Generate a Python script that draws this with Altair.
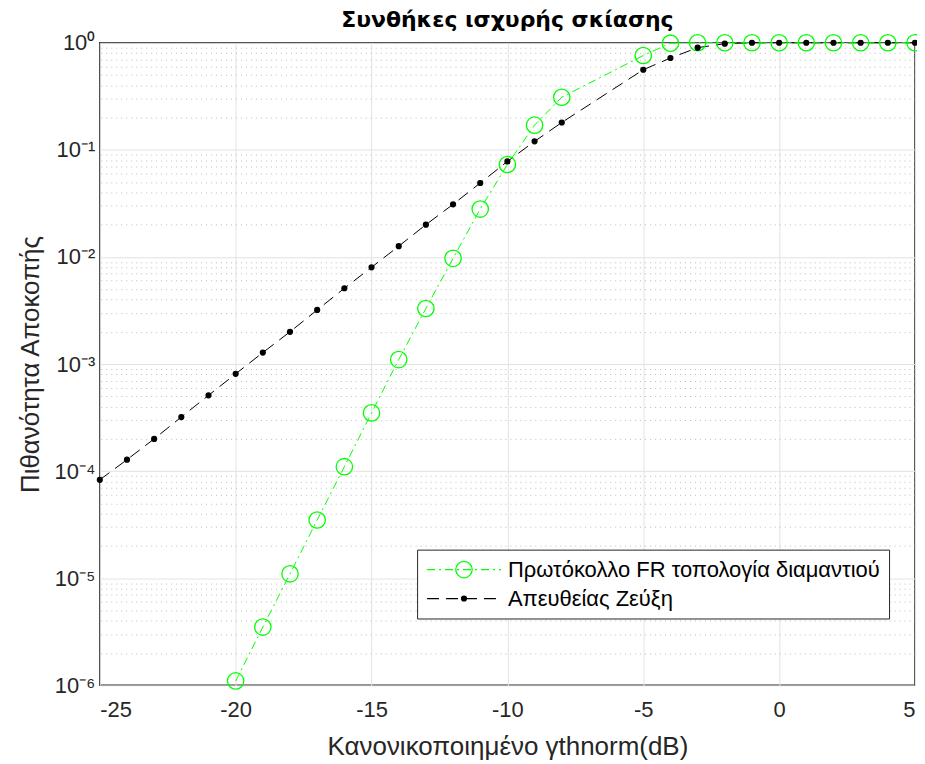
import altair as alt
import pandas as pd

# ---------------- data ----------------
x_direct = [-25, -24, -23, -22, -21, -20, -19, -18, -17, -16, -15, -14, -13, -12,
            -11, -10, -9, -8, -5, -4, -3, -2, -1, 0, 1, 2, 3, 4, 5]
p_direct = [8.3e-5, 1.28e-4, 2.0e-4, 3.2e-4, 5.1e-4, 8.1e-4, 1.28e-3, 2.0e-3,
            3.2e-3, 5.1e-3, 8.0e-3, 1.26e-2, 2.0e-2, 3.1e-2, 4.9e-2, 7.8e-2,
            0.12, 0.18, 0.56, 0.72, 0.90, 0.98, 1.0, 1.0, 1.0, 1.0, 1.0, 1.0, 1.0]

x_fr = [-20, -19, -18, -17, -16, -15, -14, -13, -12, -11, -10, -9, -8,
        -5, -4, -3, -2, -1, 0, 1, 2, 3, 4, 5]
p_fr = [1.1e-6, 3.5e-6, 1.1e-5, 3.5e-5, 1.1e-4, 3.5e-4, 1.1e-3, 3.3e-3, 9.7e-3,
        2.8e-2, 7.3e-2, 0.17, 0.31, 0.76, 0.99, 1.0, 1.0, 1.0, 1.0, 1.0, 1.0,
        1.0, 1.0, 1.0]

name_fr = "Πρωτόκολλο FR τοπολογία διαμαντιού"
name_direct = "Απευθείας Ζεύξη"
code_fr, code_direct = "fr", "direct"

x_ticks = [-25, -20, -15, -10, -5, 0, 5]
y_major = [1e-6, 1e-5, 1e-4, 1e-3, 1e-2, 1e-1, 1]
y_minor = [m * 10.0 ** e for e in range(-6, 0) for m in range(2, 10)]
y_labels = ["10⁰", "10⁻¹", "10⁻²", "10⁻³", "10⁻⁴", "10⁻⁵", "10⁻⁶"]

df_direct = pd.DataFrame({"x": x_direct, "p": p_direct,
                          "series": name_direct, "marker": code_direct})
df_fr = pd.DataFrame({"x": x_fr, "p": p_fr, "series": name_fr, "marker": code_fr})

FONT = "Liberation Sans"
GREEN = "#00ff00"
INK = "#262626"
names = [name_fr, name_direct]
codes = [code_fr, code_direct]

xscale = alt.Scale(domain=[-25, 5], nice=False, zero=False)
yscale = alt.Scale(type="log", domain=[1e-6, 1], nice=False)
cscale = alt.Scale(domain=names, range=[GREEN, "black"])
dscale = alt.Scale(domain=names, range=[[8, 4, 2, 4], [12, 7]])
mstroke = alt.Scale(domain=codes, range=[GREEN, "black"])
mfill = alt.Scale(domain=codes, range=["transparent", "black"])
msize = alt.Scale(domain=codes, range=[270, 24])

label_arr = "[" + ",".join("'" + s + "'" for s in y_labels) + "]"

LEG_X, LEG_Y = 318, 508
line_legend = alt.Legend(title=None, orient="none", legendX=LEG_X, legendY=LEG_Y,
                         symbolType="M-3.7,0H3.7", symbolSize=400, symbolStrokeWidth=1.2,
                         symbolOffset=27, labelOffset=33, fillColor="white",
                         strokeColor=INK, zindex=1)
marker_legend = alt.Legend(title=None, orient="none", legendX=LEG_X, legendY=LEG_Y,
                           symbolType="circle", symbolStrokeWidth=1.3,
                           symbolOffset=27, labelOffset=33, labelExpr="''",
                           fillColor="transparent", strokeColor="transparent", zindex=2)

x_enc = alt.X("x:Q", scale=xscale,
              axis=alt.Axis(values=x_ticks, title="Κανονικοποιημένο γthnorm(dB)",
                            labelExpr="datum.value < 0 ? '-' + (-datum.value) : '' + datum.value",
                            grid=True, gridColor="#e3e3e3", gridWidth=1,
                            ticks=False, domain=False, labelPadding=14,
                            labelFontSize=22, titleFontSize=26, titleFontWeight="normal",
                            labelFont=FONT, titleFont=FONT, titlePadding=13,
                            labelColor=INK, titleColor=INK))

y_major_axis = alt.Axis(values=y_major, title="Πιθανότητα Αποκοπής",
                        labelExpr=label_arr + "[round(-log(datum.value)/LN10)]",
                        grid=True, gridColor="#e3e3e3", gridWidth=1,
                        ticks=False, domain=False, labelPadding=5,
                        labelFontSize=22, titleFontSize=26, titleFontWeight="normal",
                        labelFont=FONT, titleFont=FONT, titlePadding=11,
                        labelColor=INK, titleColor=INK)

y_minor_axis = alt.Axis(values=y_minor, orient="right", title=None, labels=False,
                        ticks=False, domain=False, grid=True, gridColor="#bdbdbd",
                        gridDash=[1, 4], gridWidth=1)

line_direct = alt.Chart(df_direct).mark_line(strokeWidth=1).encode(
    x=x_enc,
    y=alt.Y("p:Q", scale=yscale, axis=y_major_axis),
    color=alt.Color("series:N", scale=cscale, legend=line_legend),
    strokeDash=alt.StrokeDash("series:N", scale=dscale, legend=line_legend),
)

line_fr = alt.Chart(df_fr).mark_line(strokeWidth=1).encode(
    x=alt.X("x:Q", scale=xscale),
    y=alt.Y("p:Q", scale=yscale, axis=y_minor_axis),
    color=alt.Color("series:N", scale=cscale, legend=line_legend),
    strokeDash=alt.StrokeDash("series:N", scale=dscale, legend=line_legend),
)


def marker_layer(df):
    return alt.Chart(df).mark_point(shape="circle", strokeWidth=1.3, opacity=1).encode(
        x=alt.X("x:Q", scale=xscale),
        y=alt.Y("p:Q", scale=yscale, axis=None),
        stroke=alt.Stroke("marker:N", scale=mstroke, legend=marker_legend),
        fill=alt.Fill("marker:N", scale=mfill, legend=marker_legend),
        size=alt.Size("marker:N", scale=msize, legend=marker_legend),
    )


chart = alt.layer(line_direct, line_fr, marker_layer(df_fr), marker_layer(df_direct)).resolve_axis(
    y="independent"
).properties(
    width=817, height=644,
    autosize=alt.AutoSizeParams(type="none"),
    padding={"left": 92, "top": 34, "right": 2, "bottom": 76},
    title=alt.TitleParams("Συνθήκες ισχυρής σκίασης", fontSize=22, fontWeight="bold",
                          font="DejaVu Sans", anchor="middle", offset=2, dy=2,
                          color="black"),
).configure_view(
    stroke=INK, strokeWidth=1.5
).configure_legend(
    padding=9, labelFontSize=22, labelFont=FONT, labelColor="black",
    rowPadding=7, labelLimit=0, cornerRadius=0,
)

chart.save("out.html", embed_options={"renderer": "svg", "actions": False})
